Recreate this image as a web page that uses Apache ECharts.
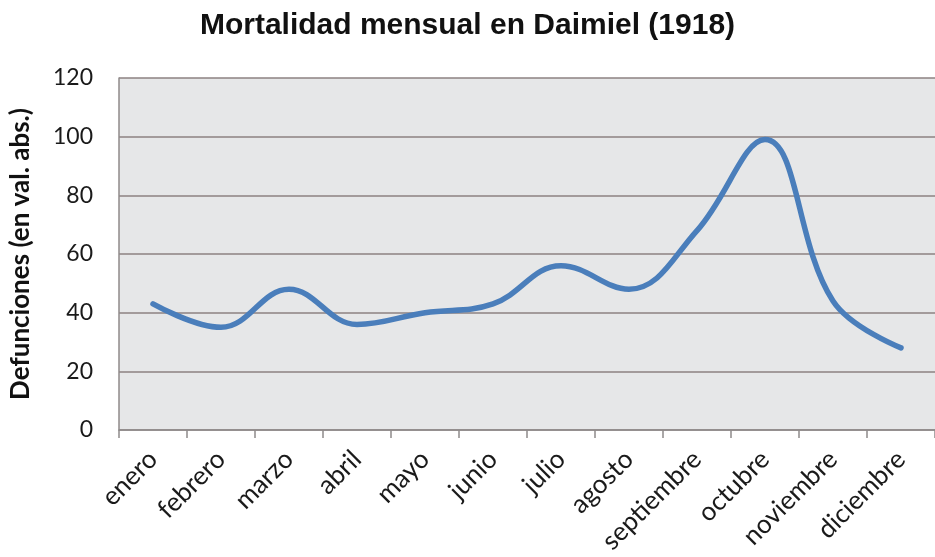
<!DOCTYPE html>
<html><head><meta charset="utf-8">
<script src="https://cdn.jsdelivr.net/npm/echarts@6/dist/echarts.min.js"></script>
<style>html,body{margin:0;padding:0;background:#fff}#c{width:935px;height:557px}</style>
</head><body><div id="c"></div>
<script>
const categories = ["enero","febrero","marzo","abril","mayo","junio","julio","agosto","septiembre","octubre","noviembre","diciembre"];
const defunciones = [43, 35, 48, 36, 40, 43, 56, 48, 68, 99, 44, 28];
const yTicks = [0, 20, 40, 60, 80, 100, 120];

const chart = echarts.init(document.getElementById('c'), null, {renderer: 'canvas'});
chart.setOption({
  animation: false,
  backgroundColor: '#ffffff',
  title: {
    text: 'Mortalidad mensual en Daimiel (1918)',
    left: 'center', top: 6,
    textStyle: {fontFamily: 'Liberation Sans', fontWeight: 'bold', fontSize: 30, color: '#111111'}
  },
  grid: {left: 118, top: 78, width: 824, height: 352, show: true, backgroundColor: '#e6e7e8', borderWidth: 0},
  xAxis: {
    type: 'category', data: categories, boundaryGap: true,
    axisLine: {lineStyle: {color: '#8f8a8a', width: 1.5}},
    axisTick: {show: true, length: 8, lineStyle: {color: '#8f8a8a', width: 1.5}},
    axisLabel: {rotate: 45, margin: 25, fontFamily: 'Lato', fontSize: 26, color: '#1a1a1a', interval: 0},
    splitLine: {show: false}
  },
  yAxis: {
    type: 'value', min: yTicks[0], max: yTicks[yTicks.length - 1], interval: 20,
    name: 'Defunciones (en val. abs.)', nameLocation: 'middle', nameRotate: 90, nameGap: 85,
    nameTextStyle: {fontFamily: 'Lato', fontWeight: 'bold', fontSize: 26, color: '#111111'},
    axisLine: {show: true, lineStyle: {color: '#8f8a8a', width: 1.5}},
    axisTick: {show: false},
    axisLabel: {margin: 26, fontFamily: 'Lato', fontSize: 23, color: '#1a1a1a'},
    splitLine: {lineStyle: {color: '#8c8282', width: 1.5}}
  },
  series: [{
    type: 'line', data: defunciones, smooth: 0.4, symbol: 'none',
    lineStyle: {color: '#4a7ebb', width: 5.5, cap: 'round', join: 'round'}
  }]
});
</script></body></html>
